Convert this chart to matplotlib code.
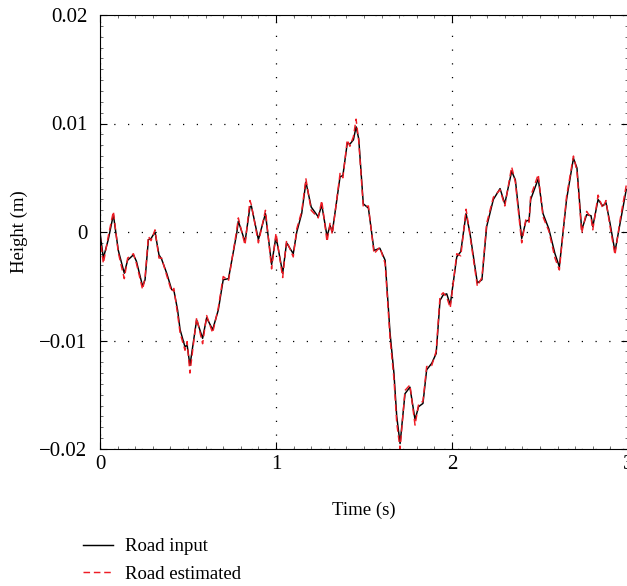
import numpy as np
import matplotlib.pyplot as plt
from matplotlib.ticker import MultipleLocator

# time samples (s)
t = [0.00, 0.019, 0.047, 0.076, 0.104, 0.138, 0.157, 0.19, 0.207, 0.242,
     0.256, 0.275, 0.29, 0.3125, 0.335, 0.35, 0.379, 0.407, 0.42, 0.441,
     0.455, 0.483, 0.495, 0.511, 0.549, 0.583, 0.606, 0.64, 0.672, 0.70,
     0.73, 0.777, 0.786, 0.824, 0.852, 0.86, 0.90, 0.94, 0.975, 1.0,
     1.038, 1.06, 1.098, 1.118, 1.146, 1.17, 1.20, 1.24, 1.26, 1.29,
     1.307, 1.32, 1.364, 1.38, 1.405, 1.42, 1.44, 1.455, 1.47, 1.496,
     1.525, 1.557, 1.59, 1.62, 1.648, 1.67, 1.686, 1.705, 1.733, 1.761,
     1.79, 1.81, 1.835, 1.856, 1.885, 1.91, 1.932, 1.95, 1.97, 1.99,
     2.027, 2.05, 2.08, 2.102, 2.144, 2.17, 2.197, 2.235, 2.273, 2.30,
     2.339, 2.36, 2.396, 2.42, 2.438, 2.447, 2.49, 2.517, 2.55, 2.585,
     2.61, 2.651, 2.69, 2.71, 2.737, 2.765, 2.79, 2.80, 2.83, 2.856,
     2.875, 2.898, 2.926, 2.955, 2.99, 3.0]

# road input (mm)
road_in = [0.0, -2.4, -0.7, 1.6, -1.7, -3.8, -2.6, -2.1, -2.7, -5.0,
           -4.4, -0.7, -0.6, 0.0, -2.1, -2.5, -3.8, -5.3, -5.4, -7.2,
           -9.0, -10.6, -10.4, -12.3, -8.1, -9.8, -7.9, -9.0, -7.2, -4.4,
           -4.3, -0.1, 1.0, -0.9, 2.3, 2.4, -0.7, 1.7, -3.0, -0.4,
           -3.8, -1.0, -2.0, 0.0, 1.7, 4.6, 2.3, 1.4, 2.5, -0.4,
           0.6, 0.0, 5.1, 5.2, 8.2, 8.1, 8.5, 9.7, 8.6, 2.6,
           2.2, -1.7, -1.5, -2.6, -9.3, -13.0, -17.0, -19.5, -14.9, -14.3,
           -17.3, -16.1, -15.8, -12.7, -12.1, -11.2, -6.3, -5.8, -5.7, -6.7,
           -2.3, -1.8, 1.7, -0.1, -4.7, -4.4, 0.5, 3.0, 4.0, 2.6,
           5.6, 4.8, -0.6, 1.0, 1.1, 3.0, 4.9, 1.7, 0.3, -2.0,
           -3.2, 3.0, 6.8, 5.9, 0.2, 1.6, 1.5, 0.5, 3.0, 2.4,
           2.7, 0.8, -1.8, 0.8, 3.9, 4.0]

# road estimated (mm)
road_est = [-0.3, -2.9, -0.4, 1.9, -1.9, -4.3, -2.4, -2.0, -2.9, -5.3,
            -4.2, -0.4, -0.8, 0.2, -2.4, -2.4, -4.0, -5.5, -5.2, -7.6,
            -9.3, -10.9, -10.1, -13.0, -7.9, -10.3, -7.7, -9.3, -7.0, -4.1,
            -4.5, 0.2, 1.3, -1.2, 2.9, 2.5, -1.0, 2.0, -3.4, -0.1,
            -4.2, -0.8, -2.3, 0.3, 1.9, 4.9, 2.0, 1.3, 2.9, -0.9,
            0.8, -0.2, 5.4, 5.0, 8.5, 7.9, 8.8, 10.4, 8.4, 2.3,
            2.4, -2.0, -1.4, -2.9, -9.8, -13.5, -17.6, -20.0, -14.6, -14.1,
            -17.8, -15.9, -15.6, -12.4, -12.3, -11.0, -5.9, -5.6, -6.0, -7.0,
            -2.0, -2.2, 2.1, -0.3, -5.0, -4.2, 0.8, 3.2, 3.9, 2.4,
            6.0, 4.6, -1.0, 1.2, 0.9, 3.3, 5.3, 1.4, 0.1, -2.4,
            -3.5, 3.3, 7.0, 5.6, -0.1, 1.9, 1.3, 0.2, 3.4, 2.2,
            2.9, 0.5, -2.1, 1.1, 4.3, 4.2]

plt.rcParams['font.family'] = 'Liberation Serif'
plt.rcParams['font.size'] = 13.5

t = np.array(t)
road_in = np.array(road_in) / 1000.0
road_est = np.array(road_est) / 1000.0

fig = plt.figure(figsize=(6.27, 5.86), dpi=100)
ax = fig.add_axes([100 / 627, 1 - 449 / 586, 528 / 627, 434 / 586])

ax.plot(t, road_in, 'k-', lw=1.05, label='Road input')
ax.plot(t, road_est, '--', color='#ee1c25', lw=1.05, dashes=(4.5, 2.6), label='Road estimated')

ax.set_xlim(0, 3)
ax.set_ylim(-0.02, 0.02)
ax.set_xticks([0, 1, 2, 3])
ax.set_yticks([-0.02, -0.01, 0, 0.01, 0.02])
ax.set_yticklabels(['\u22120.02', '\u22120.01', '0', '0.01', '0.02'])
ax.xaxis.set_minor_locator(MultipleLocator(0.1))
ax.yaxis.set_minor_locator(MultipleLocator(0.001))
ax.tick_params(which='both', direction='in', top=True, right=True)
ax.tick_params(which='major', length=5, labelsize=15)
ax.tick_params(axis='y', which='major', pad=9)
ax.tick_params(axis='x', which='major', pad=4)
ax.tick_params(which='minor', length=2.5, color='#555555')
ax.grid(True, which='major', color='k', lw=0.9, linestyle=(0, (1, 10)))

ax.set_xlabel('Time (s)', labelpad=20)
ax.set_ylabel('Height (m)', labelpad=8)

ax.legend(loc='upper left', bbox_to_anchor=(83 / 627, 1 - 538 / 586),
          bbox_transform=fig.transFigure, frameon=False, borderpad=0,
          borderaxespad=0, handlelength=1.6, handletextpad=0.65,
          labelspacing=0.55, fontsize=13.5)

fig.savefig('out.png', dpi=100)
